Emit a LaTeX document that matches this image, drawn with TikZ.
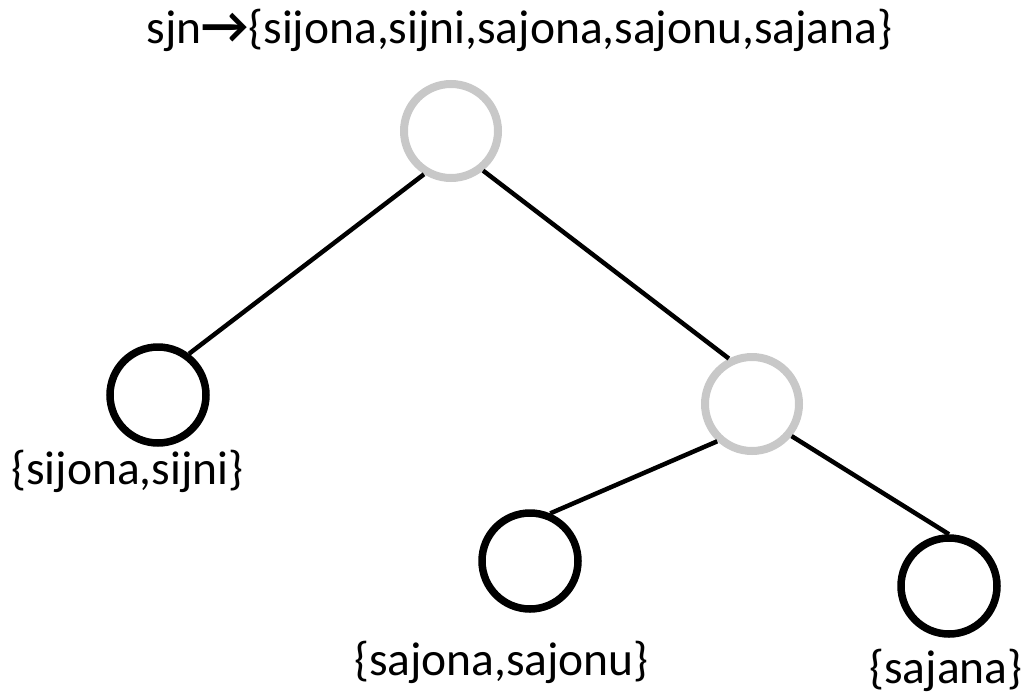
\documentclass[tikz,border=0pt]{standalone}
\usepackage{fontspec}
\setmainfont{Carlito}
\definecolor{ringgray}{RGB}{200,200,200}
\tikzset{
  inner/.style={circle, draw=ringgray, line width=8pt, minimum size=94pt, inner sep=0pt},
  leaf/.style={circle, draw=black, line width=7.5pt, minimum size=96pt, inner sep=0pt},
  edge/.style={draw=black, line width=4.5pt},
  lbl/.style={anchor=base, inner sep=0pt, font=\fontsize{47.5}{56}\selectfont}
}
\begin{document}
\begin{tikzpicture}[x=1pt,y=-1pt]
\useasboundingbox (0,0) rectangle (1027,696);
\node[lbl] (title) at (519.5,43) {sjn{\bfseries\fontsize{52}{56}\selectfont →}\{sijona,sijni,sajona,sajonu,sajana\}};
\node[inner] (root) at (451,131) {};
\node[leaf] (lc) at (158,395) {};
\node[inner] (rc) at (752,404) {};
\node[leaf] (bl) at (530,561) {};
\node[leaf] (br) at (949,586) {};
\path[edge] (root.-122) -- (lc.53);
\path[edge] (root.-51) -- (rc.117);
\path[edge] (rc.227) -- (bl.67);
\path[edge] (rc.-39) -- (br.90);
\node[lbl] (llc) at (127.5,484) {\{sijona,sijni\}};
\node[lbl] (lbl) at (501.5,675) {\{sajona,sajonu\}};
\node[lbl] (lbr) at (946,683) {\{sajana\}};
\end{tikzpicture}
\end{document}
